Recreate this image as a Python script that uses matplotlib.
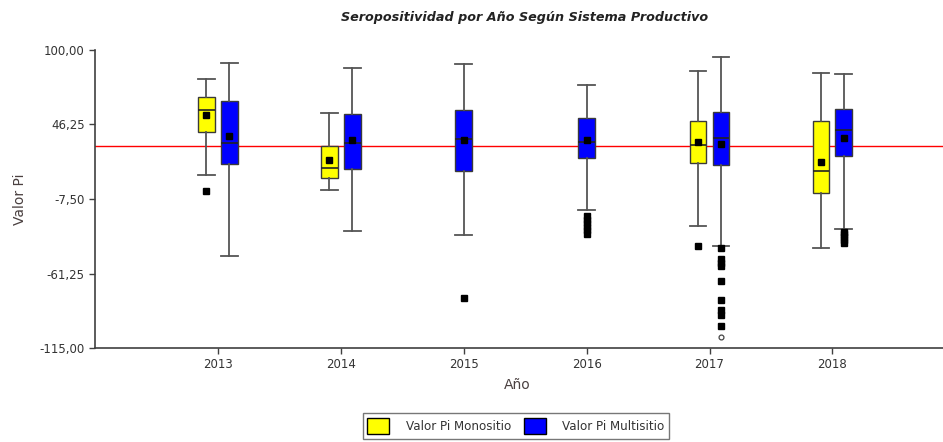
import matplotlib
matplotlib.use('Agg')
import matplotlib.pyplot as plt
from matplotlib.patches import Patch

# ---------------- data ----------------
years = [2013, 2014, 2015, 2016, 2017, 2018]

mono_years = [2013, 2014, 2017, 2018]
mono_whislo = [9.7, -1.3, -27.3, -42.9]
mono_q1 = [40.7, 7.3, 18.8, -3.2]
mono_med = [56.5, 15.2, 31.7, 12.8]
mono_q3 = [66.3, 30.7, 49.1, 49.1]
mono_whishi = [79.0, 54.6, 84.5, 83.3]
mono_mean = [53.2, 20.4, 33.3, 19.2]
mono_fliers = [[-1.5], [], [-41.4], []]

multi_years = [2013, 2014, 2015, 2016, 2017, 2018]
multi_whislo = [-48.4, -30.4, -33.8, -15.6, -41.4, -29.2]
multi_q1 = [17.8, 13.8, 12.6, 22.4, 16.9, 23.6]
multi_med = [32.6, 32.6, 35.5, 33.6, 36.5, 42.4]
multi_q3 = [63.4, 53.6, 57.0, 50.8, 55.6, 57.7]
multi_whishi = [90.9, 87.3, 90.0, 74.9, 94.7, 82.6]
multi_mean = [37.6, 34.8, 35.0, 35.0, 32.2, 36.7]
multi_fliers = [[], [], [-78.7],
                [-20.0, -22.5, -25.0, -27.5, -30.0, -32.5],
                [-42.5, -51.0, -53.5, -56.0, -66.5, -80.4, -87.5, -91.0, -99.0],
                [-31.0, -33.0, -35.0, -37.0, -39.5]]
multi_extreme = [[], [], [], [], [-107.3], []]

reference_value = 30.7

ytick_values = [100.0, 46.25, -7.5, -61.25, -115.0]
ytick_labels = ["100,00", "46,25", "-7,50", "-61,25", "-115,00"]

title = "Seropositividad por Año Según Sistema Productivo"
xlabel = "Año"
ylabel = "Valor Pi"
label_mono = "Valor Pi Monositio"
label_multi = "Valor Pi Multisitio"

# ---------------- styles ----------------
W, H = 943, 442
fig = plt.figure(figsize=(W / 100, H / 100), dpi=100)
ax = fig.add_axes([95 / W, 1 - 348 / H, (943 - 95) / W, (348 - 50) / H])

txt = '#333333'
offset = 0.093
bw = 0.136

def make_stats(whislo, q1, med, q3, whishi, mean, fliers):
    return [dict(whislo=a, q1=b, med=c, q3=d, whishi=e, mean=f, fliers=g)
            for a, b, c, d, e, f, g in zip(whislo, q1, med, q3, whishi, mean, fliers)]

common = dict(widths=bw, capwidths=bw, patch_artist=True, showmeans=True, shownotches=False,
              whiskerprops=dict(color='#555555', linewidth=1.3),
              capprops=dict(color='#555555', linewidth=1.3),
              medianprops=dict(color='#222222', linewidth=1.2),
              meanprops=dict(marker='s', markerfacecolor='black', markeredgecolor='black',
                             markersize=4),
              flierprops=dict(marker='s', markerfacecolor='black', markeredgecolor='black',
                              markersize=3.8, linestyle='none'))

mono_pos = [y - offset for y in mono_years]
multi_pos = [y + offset if y in mono_years else y for y in multi_years]

bm = ax.bxp(make_stats(mono_whislo, mono_q1, mono_med, mono_q3, mono_whishi, mono_mean, mono_fliers),
            positions=mono_pos,
            boxprops=dict(facecolor='#ffff00', edgecolor='#3a3a3a', linewidth=1.0), **common)
bu = ax.bxp(make_stats(multi_whislo, multi_q1, multi_med, multi_q3, multi_whishi, multi_mean, multi_fliers),
            positions=multi_pos,
            boxprops=dict(facecolor='#0000ff', edgecolor='#3a3a3a', linewidth=1.0), **common)

for p, ext in zip(multi_pos, multi_extreme):
    if ext:
        ax.plot([p] * len(ext), ext, linestyle='none', marker='o', markersize=3.5,
                markerfacecolor='white', markeredgecolor='#444444', markeredgewidth=0.9)

ax.axhline(reference_value, color='red', linewidth=1.0, zorder=1)

ax.set_xlim(2012, 2012 + (943 - 95) / 122.9)
ax.set_ylim(-115, 100)
ax.set_xticks(years)
ax.set_xticklabels([str(y) for y in years])
ax.set_yticks(ytick_values)
ax.set_yticklabels(ytick_labels)
ax.tick_params(axis='both', colors='#404040', labelcolor=txt, labelsize=8.5,
               length=4, width=1.0, direction='out')
for s in ['top', 'right']:
    ax.spines[s].set_visible(False)
for s in ['left', 'bottom']:
    ax.spines[s].set_color('#404040')
    ax.spines[s].set_linewidth(1.2)

fig.text(525 / W, 1 - 17 / H, title, ha='center', va='center', fontsize=9.2,
         fontweight='bold', fontstyle='italic', color='#222222')
fig.text(20 / W, 1 - 199 / H, ylabel, ha='center', va='center', rotation=90,
         fontsize=10, color='#4a4040')
fig.text(517 / W, 1 - 385 / H, xlabel, ha='center', va='center', fontsize=10, color='#4a4040')

handles = [Patch(facecolor='#ffff00', edgecolor='black', linewidth=1.0, label=label_mono),
           Patch(facecolor='#0000ff', edgecolor='black', linewidth=1.0, label=label_multi)]
leg = fig.legend(handles=handles, loc='upper center', bbox_to_anchor=(516 / W, 1 - 413 / H),
                 ncol=2, fontsize=8.6, frameon=True, fancybox=False, edgecolor='#555555',
                 handlelength=1.8, handleheight=1.75, handletextpad=1.4, columnspacing=1.1,
                 borderpad=0.4, borderaxespad=0)
leg.get_frame().set_linewidth(1.0)
for t in leg.get_texts():
    t.set_color(txt)

fig.savefig('out.png', dpi=100)
